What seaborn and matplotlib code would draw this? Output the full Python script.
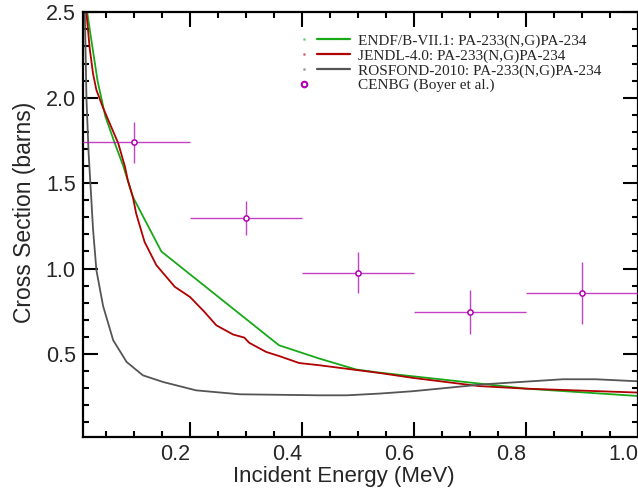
import numpy as np
import pandas as pd
import matplotlib
matplotlib.use("Agg")
import matplotlib.pyplot as plt
import seaborn as sns
from matplotlib.lines import Line2D
from matplotlib.legend_handler import HandlerBase
from matplotlib.ticker import MultipleLocator

# ---------------- data ----------------
endf_e = [0.012, 0.017, 0.022, 0.035, 0.049, 0.064, 0.081, 0.098, 0.149, 0.359,
          0.431, 0.497, 0.538, 0.716, 0.80, 1.0]
endf_xs = [2.62, 2.49, 2.38, 2.10, 1.89, 1.75, 1.60, 1.42, 1.10, 0.551,
           0.473, 0.409, 0.391, 0.327, 0.297, 0.254]

jendl_e = [0.012, 0.0153, 0.021, 0.027, 0.033, 0.045, 0.060, 0.072, 0.084, 0.089, 0.098,
           0.104, 0.119, 0.140, 0.173, 0.200, 0.226, 0.247, 0.277, 0.297, 0.306,
           0.336, 0.360, 0.395, 0.431, 0.538, 0.598, 0.716, 0.80, 1.0]
jendl_xs = [2.65, 2.49, 2.29, 2.14, 2.045, 1.94, 1.825, 1.733, 1.596, 1.518, 1.42,
            1.322, 1.156, 1.02, 0.893, 0.834, 0.746, 0.668, 0.614, 0.596, 0.565,
            0.512, 0.487, 0.447, 0.434, 0.389, 0.36, 0.312, 0.297, 0.274]

rosfond_e = [0.0115, 0.0123, 0.0153, 0.019, 0.024, 0.027, 0.033, 0.045, 0.063, 0.087,
             0.116, 0.152, 0.211, 0.289, 0.431, 0.48, 0.538, 0.598, 0.723, 0.866,
             0.924, 1.0]
rosfond_xs = [2.8, 2.5, 1.99, 1.68, 1.40, 1.23, 0.99, 0.78, 0.58, 0.453,
              0.375, 0.336, 0.287, 0.264, 0.258, 0.258, 0.268, 0.282, 0.322, 0.352,
              0.352, 0.34]

cenbg_e = [0.1, 0.3, 0.5, 0.7, 0.9]
cenbg_xs = [1.74, 1.295, 0.975, 0.745, 0.856]
cenbg_de = [0.1, 0.1, 0.1, 0.1, 0.1]
cenbg_dxs = [0.12, 0.10, 0.12, 0.13, 0.18]

labels = ["ENDF/B-VII.1: PA-233(N,G)PA-234",
          "JENDL-4.0: PA-233(N,G)PA-234",
          "ROSFOND-2010: PA-233(N,G)PA-234"]
exp_label = "CENBG (Boyer et al.)"
colors = ["#18a818", "#b00000", "#555555"]
exp_color = "#b000b0"

xtick_vals = [0.2, 0.4, 0.6, 0.8, 1.0]
xtick_labels = ["0.2", "0.4", "0.6", "0.8", "1.0"]
ytick_vals = [0.5, 1.0, 1.5, 2.0, 2.5]
ytick_labels = ["0.5", "1.0", "1.5", "2.0", "2.5"]

# ---------------- build frame ----------------
frames = []
for lab, e, xs in zip(labels, [endf_e, jendl_e, rosfond_e],
                      [endf_xs, jendl_xs, rosfond_xs]):
    frames.append(pd.DataFrame({"E": e, "XS": xs, "lib": lab}))
df = pd.concat(frames, ignore_index=True)
exp = pd.DataFrame({"E": cenbg_e, "XS": cenbg_xs, "dE": cenbg_de, "dXS": cenbg_dxs})

sns.set_theme(style="white")
plt.rcParams["font.family"] = ["Liberation Sans", "DejaVu Sans"]

fig = plt.figure(figsize=(6.38, 4.92), dpi=100)
ax = fig.add_axes([0.1296, 0.1118, 0.8704, 0.8632])

sns.lineplot(data=df, x="E", y="XS", hue="lib", palette=dict(zip(labels, colors)),
             estimator=None, sort=True, lw=1.3, ax=ax, legend=False)

ax.errorbar(exp["E"], exp["XS"], xerr=exp["dE"], yerr=exp["dXS"], fmt="none",
            ecolor=exp_color, elinewidth=1.0, capsize=0, zorder=4, alpha=0.75)
sns.scatterplot(data=exp, x="E", y="XS", marker="o", s=14, facecolor="white",
                edgecolor=exp_color, linewidth=1.1, ax=ax, zorder=5, legend=False)

ax.set_xlim(0.0085, 1.0)
ax.set_ylim(0.014, 2.5)
ax.xaxis.set_minor_locator(MultipleLocator(0.05))
ax.yaxis.set_minor_locator(MultipleLocator(0.1))
ax.set_xticks(xtick_vals)
ax.set_xticklabels(xtick_labels)
ax.set_yticks(ytick_vals)
ax.set_yticklabels(ytick_labels)
for lbl in ax.get_xticklabels():
    lbl.set_horizontalalignment("right")

ax.tick_params(which="both", direction="in", top=True, right=True,
               bottom=True, left=True, color="black", width=1.5)
ax.tick_params(which="major", length=11, labelsize=15.5, pad=5)
ax.tick_params(which="minor", length=4.5)
for s in ax.spines.values():
    s.set_color("black")
    s.set_linewidth(1.6)

ax.set_xlabel("Incident Energy (MeV)", fontsize=16)
ax.set_ylabel("Cross Section (barns)", fontsize=16.5)
ax.xaxis.set_label_coords(0.4697, -0.068)
ax.yaxis.set_label_coords(-0.084, 0.5286)


class DotLineHandler(HandlerBase):
    def create_artists(self, legend, orig_handle, xdescent, ydescent, width,
                       height, fontsize, trans):
        y = height / 2.0 - ydescent
        x0 = -xdescent
        arts = []
        c = orig_handle.get_color()
        if orig_handle.get_linestyle() not in ("None", "", " "):
            ln = Line2D([x0 + width * 0.28, x0 + width], [y, y], color=c,
                        lw=orig_handle.get_linewidth())
            ln.set_transform(trans)
            arts.append(ln)
            dot = Line2D([x0], [y], marker="s", ms=1.0, color=c, ls="None", alpha=0.4)
        else:
            dot = Line2D([x0], [y], marker="o", ms=4.0, mfc="white",
                         mec=orig_handle.get_markeredgecolor(), mew=1.5, ls="None")
        dot.set_transform(trans)
        arts.append(dot)
        return arts


handles = [Line2D([0], [0], color=c, lw=1.6) for c in colors]
handles.append(Line2D([0], [0], ls="None", marker="o", mec=exp_color, color=exp_color))
leg = ax.legend(handles, labels + [exp_label], loc="upper right",
                bbox_to_anchor=(0.945, 0.963), frameon=False,
                prop={"family": "Liberation Serif", "size": 11},
                handlelength=3.0, handletextpad=0.55, labelspacing=0.06,
                borderaxespad=0.0,
                handler_map={Line2D: DotLineHandler()})

fig.savefig("out.png", dpi=100)
